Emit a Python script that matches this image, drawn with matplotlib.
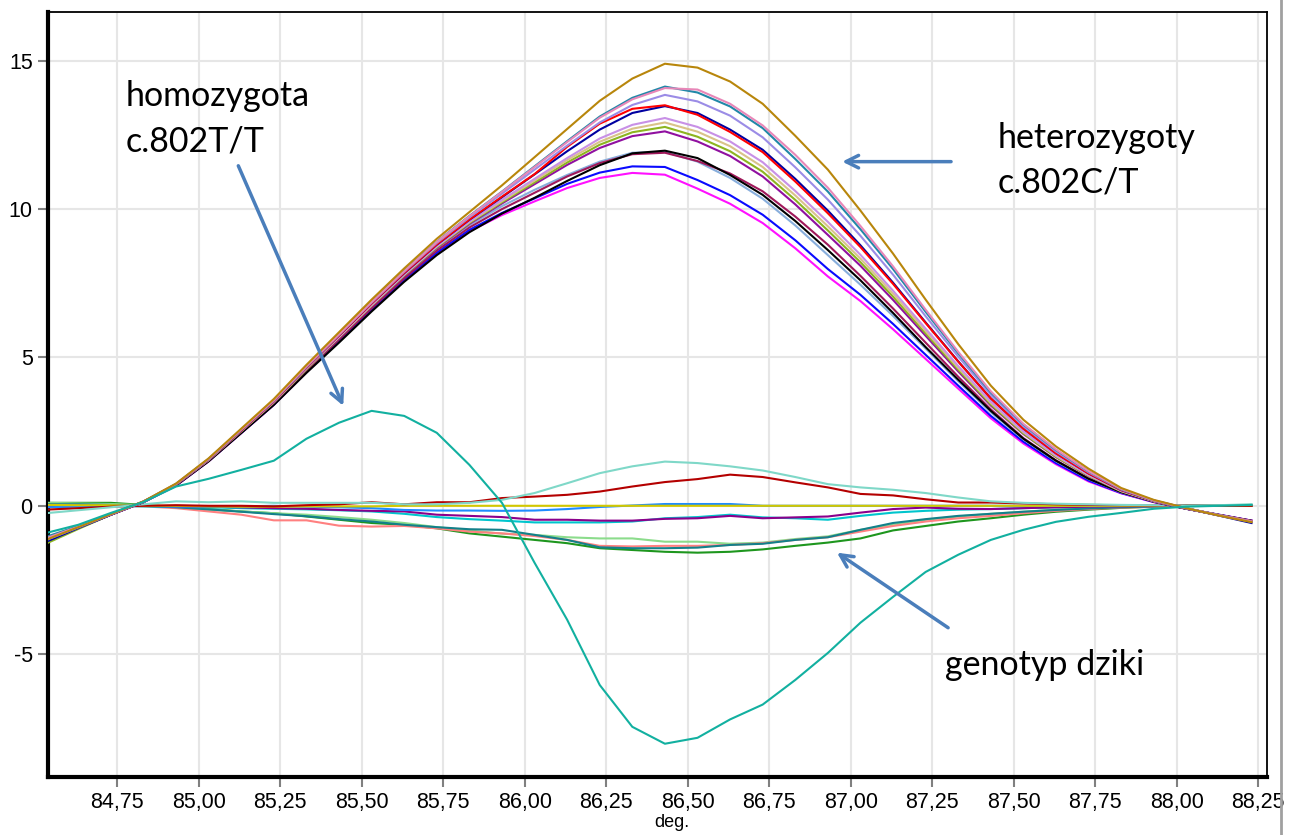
import matplotlib
matplotlib.use("Agg")
import matplotlib.pyplot as plt
from matplotlib.lines import Line2D

# temperatura (deg), co 0,1
temp = [84.53, 84.63, 84.73, 84.83, 84.93, 85.03, 85.13, 85.23, 85.33, 85.43,
        85.53, 85.63, 85.73, 85.83, 85.93, 86.03, 86.13, 86.23, 86.33, 86.43,
        86.53, 86.63, 86.73, 86.83, 86.93, 87.03, 87.13, 87.23, 87.33, 87.43,
        87.53, 87.63, 87.73, 87.83, 87.93, 88.03, 88.13, 88.23]

# heterozygoty c.802C/T
het_gold = [-1.15, -0.72, -0.28, 0.15, 0.75, 1.60, 2.60, 3.60, 4.75, 5.85, 6.95, 8.00, 9.00, 9.90, 10.80, 11.75, 12.70, 13.65, 14.40, 14.90,
            14.77, 14.30, 13.55, 12.47, 11.33, 9.95, 8.50, 6.95, 5.45, 4.05, 2.90, 2.00, 1.25, 0.60, 0.20, -0.08, -0.33, -0.55]
het_teal = [-1.05, -0.68, -0.27, 0.14, 0.74, 1.58, 2.57, 3.56, 4.70, 5.79, 6.88, 7.92, 8.90, 9.77, 10.59, 11.44, 12.29, 13.12, 13.75, 14.13,
            13.93, 13.46, 12.73, 11.69, 10.59, 9.32, 7.98, 6.54, 5.14, 3.82, 2.74, 1.88, 1.16, 0.56, 0.18, -0.08, -0.32, -0.54]
het_pink = [-1.10, -0.70, -0.28, 0.14, 0.74, 1.58, 2.57, 3.56, 4.70, 5.78, 6.87, 7.91, 8.89, 9.76, 10.58, 11.42, 12.26, 13.08, 13.70, 14.08,
            14.03, 13.55, 12.82, 11.83, 10.72, 9.43, 8.07, 6.61, 5.19, 3.86, 2.76, 1.90, 1.17, 0.57, 0.18, -0.08, -0.32, -0.53]
het_lavender = [-1.16, -0.73, -0.29, 0.14, 0.73, 1.57, 2.56, 3.54, 4.68, 5.77, 6.85, 7.89, 8.86, 9.72, 10.52, 11.33, 12.14, 12.92, 13.51, 13.85,
                13.63, 13.15, 12.42, 11.41, 10.32, 9.10, 7.79, 6.39, 5.03, 3.74, 2.68, 1.83, 1.13, 0.55, 0.18, -0.09, -0.32, -0.54]
het_red = [-1.12, -0.71, -0.29, 0.14, 0.72, 1.56, 2.54, 3.52, 4.66, 5.74, 6.82, 7.85, 8.81, 9.65, 10.42, 11.18, 12.10, 12.88, 13.38, 13.50,
           13.18, 12.60, 11.92, 10.93, 9.86, 8.72, 7.48, 6.16, 4.86, 3.62, 2.60, 1.77, 1.09, 0.53, 0.17, -0.09, -0.32, -0.53]
het_navy = [-1.22, -0.75, -0.30, 0.14, 0.72, 1.56, 2.54, 3.52, 4.66, 5.74, 6.82, 7.84, 8.80, 9.64, 10.40, 11.17, 11.95, 12.68, 13.24, 13.47,
            13.24, 12.68, 12.00, 11.02, 9.95, 8.78, 7.52, 6.18, 4.87, 3.62, 2.60, 1.77, 1.09, 0.53, 0.17, -0.09, -0.33, -0.58]
het_orchid = [-1.18, -0.74, -0.29, 0.14, 0.72, 1.55, 2.53, 3.50, 4.63, 5.70, 6.78, 7.80, 8.75, 9.58, 10.31, 11.02, 11.72, 12.38, 12.84, 13.07,
              12.77, 12.28, 11.58, 10.61, 9.57, 8.46, 7.25, 5.97, 4.71, 3.51, 2.50, 1.70, 1.04, 0.51, 0.16, -0.09, -0.32, -0.52]
het_tan = [-1.15, -0.73, -0.29, 0.14, 0.72, 1.55, 2.53, 3.50, 4.63, 5.69, 6.76, 7.79, 8.74, 9.56, 10.27, 10.96, 11.65, 12.27, 12.71, 12.92,
           12.61, 12.12, 11.42, 10.46, 9.42, 8.33, 7.15, 5.89, 4.65, 3.47, 2.48, 1.68, 1.03, 0.50, 0.16, -0.09, -0.32, -0.53]
het_olive = [-1.28, -0.78, -0.30, 0.13, 0.71, 1.54, 2.51, 3.48, 4.60, 5.68, 6.75, 7.77, 8.71, 9.53, 10.23, 10.90, 11.57, 12.17, 12.59, 12.77,
             12.44, 11.95, 11.26, 10.31, 9.28, 8.21, 7.05, 5.81, 4.59, 3.42, 2.44, 1.65, 1.01, 0.49, 0.15, -0.09, -0.31, -0.52]
het_purple = [-1.18, -0.74, -0.29, 0.13, 0.71, 1.54, 2.51, 3.48, 4.60, 5.67, 6.74, 7.76, 8.69, 9.50, 10.19, 10.84, 11.49, 12.06, 12.46, 12.62,
              12.28, 11.79, 11.10, 10.16, 9.13, 8.09, 6.94, 5.73, 4.53, 3.38, 2.42, 1.64, 1.00, 0.49, 0.15, -0.09, -0.31, -0.52]
het_black = [-1.20, -0.75, -0.30, 0.13, 0.69, 1.50, 2.45, 3.40, 4.48, 5.50, 6.55, 7.55, 8.45, 9.22, 9.85, 10.38, 10.95, 11.48, 11.88, 11.97,
             11.72, 11.15, 10.48, 9.60, 8.62, 7.60, 6.50, 5.35, 4.25, 3.20, 2.26, 1.52, 0.91, 0.46, 0.14, -0.10, -0.31, -0.51]
het_maroon = [-1.19, -0.74, -0.30, 0.13, 0.69, 1.52, 2.48, 3.44, 4.55, 5.60, 6.66, 7.67, 8.60, 9.38, 10.00, 10.55, 11.10, 11.55, 11.85, 11.90,
              11.62, 11.20, 10.60, 9.75, 8.80, 7.75, 6.65, 5.50, 4.35, 3.25, 2.28, 1.53, 0.92, 0.46, 0.14, -0.10, -0.31, -0.50]
het_steel = [-1.10, -0.70, -0.28, 0.13, 0.69, 1.52, 2.48, 3.44, 4.55, 5.65, 6.72, 7.74, 8.68, 9.46, 10.10, 10.65, 11.15, 11.60, 11.90, 11.93,
             11.60, 11.05, 10.35, 9.45, 8.45, 7.45, 6.40, 5.30, 4.20, 3.15, 2.24, 1.50, 0.90, 0.45, 0.14, -0.10, -0.31, -0.51]
het_blue = [-1.20, -0.75, -0.30, 0.12, 0.68, 1.51, 2.46, 3.41, 4.52, 5.57, 6.62, 7.63, 8.53, 9.30, 9.87, 10.36, 10.85, 11.23, 11.44, 11.42,
            10.98, 10.47, 9.81, 8.95, 7.98, 7.11, 6.13, 5.09, 4.05, 3.03, 2.16, 1.44, 0.85, 0.43, 0.13, -0.10, -0.30, -0.50]
het_magenta = [-1.20, -0.75, -0.30, 0.12, 0.68, 1.50, 2.45, 3.40, 4.50, 5.55, 6.60, 7.60, 8.50, 9.25, 9.80, 10.26, 10.71, 11.05, 11.22, 11.16,
               10.69, 10.18, 9.53, 8.68, 7.73, 6.90, 5.95, 4.95, 3.95, 2.95, 2.10, 1.40, 0.82, 0.42, 0.12, -0.10, -0.30, -0.50]

# homozygota c.802T/T
homo_tt = [-0.92, -0.64, -0.24, 0.13, 0.65, 0.91, 1.21, 1.52, 2.26, 2.80, 3.20, 3.03, 2.46, 1.38, 0.10, -1.92, -3.84, -6.04, -7.45, -8.02,
           -7.82, -7.20, -6.70, -5.87, -4.96, -3.94, -3.07, -2.23, -1.65, -1.15, -0.81, -0.54, -0.37, -0.24, -0.10, -0.03, 0.00, 0.03]

# genotyp dziki
wt_aqua = [-0.25, -0.15, -0.05, 0.05, 0.15, 0.12, 0.15, 0.10, 0.10, 0.10, 0.10, 0.05, 0.05, 0.10, 0.20, 0.43, 0.76, 1.10, 1.33, 1.49,
           1.44, 1.33, 1.19, 0.97, 0.73, 0.62, 0.54, 0.43, 0.28, 0.15, 0.10, 0.07, 0.05, 0.03, 0.02, 0.00, 0.02, 0.05]
wt_darkred = [-0.13, -0.08, -0.03, 0.00, 0.02, 0.00, 0.00, -0.02, 0.02, 0.05, 0.12, 0.05, 0.12, 0.12, 0.26, 0.31, 0.37, 0.48, 0.65, 0.80,
              0.90, 1.05, 0.97, 0.79, 0.62, 0.40, 0.35, 0.22, 0.11, 0.11, 0.08, 0.05, 0.03, 0.02, 0.01, 0.00, 0.00, 0.00]
wt_yellow = [0.03, 0.02, 0.02, 0.00, 0.00, -0.02, -0.03, -0.03, -0.02, -0.02, -0.02, 0.00, 0.00, 0.00, 0.00, 0.00, 0.00, 0.00, 0.00, 0.00,
             0.00, 0.00, 0.00, 0.00, 0.00, 0.00, 0.00, 0.00, 0.00, 0.00, 0.00, 0.00, 0.00, 0.00, 0.00, 0.00, 0.00, 0.00]
wt_blue = [-0.05, -0.03, 0.00, 0.00, -0.02, -0.03, -0.02, 0.00, -0.03, -0.05, -0.08, -0.14, -0.16, -0.16, -0.17, -0.16, -0.11, -0.04, 0.01, 0.06,
           0.06, 0.06, 0.00, 0.00, 0.00, 0.00, 0.00, 0.00, 0.00, 0.00, 0.00, 0.00, 0.00, 0.00, 0.00, 0.00, 0.00, 0.00]
wt_purple = [0.00, 0.00, 0.00, 0.00, -0.02, -0.03, -0.05, -0.08, -0.10, -0.14, -0.17, -0.19, -0.30, -0.34, -0.38, -0.47, -0.47, -0.50, -0.50, -0.44,
             -0.42, -0.34, -0.42, -0.39, -0.36, -0.23, -0.11, -0.06, -0.10, -0.11, -0.08, -0.05, -0.03, -0.02, -0.01, 0.00, 0.00, 0.00]
wt_cyan = [0.00, 0.00, 0.00, -0.02, -0.04, -0.05, -0.08, -0.10, -0.12, -0.15, -0.19, -0.27, -0.38, -0.45, -0.50, -0.56, -0.56, -0.56, -0.53, -0.42,
           -0.38, -0.30, -0.39, -0.42, -0.47, -0.34, -0.23, -0.17, -0.13, -0.11, -0.08, -0.05, -0.04, -0.02, -0.01, 0.00, 0.00, 0.00]
wt_darkteal = [0.05, 0.05, 0.03, 0.00, -0.05, -0.12, -0.20, -0.28, -0.35, -0.45, -0.53, -0.64, -0.72, -0.79, -0.81, -0.98, -1.15, -1.40, -1.43, -1.43,
               -1.41, -1.32, -1.28, -1.15, -1.06, -0.81, -0.58, -0.45, -0.34, -0.27, -0.20, -0.14, -0.09, -0.05, -0.02, 0.00, 0.00, 0.02]
wt_salmon = [0.02, 0.02, 0.00, -0.02, -0.08, -0.19, -0.30, -0.49, -0.49, -0.67, -0.70, -0.68, -0.76, -0.87, -0.93, -1.02, -1.15, -1.35, -1.37, -1.35,
             -1.35, -1.32, -1.26, -1.15, -1.06, -0.87, -0.68, -0.53, -0.42, -0.34, -0.25, -0.17, -0.11, -0.06, -0.03, 0.00, 0.00, 0.00]
wt_lightgreen = [0.10, 0.08, 0.06, 0.02, -0.05, -0.13, -0.19, -0.25, -0.30, -0.38, -0.47, -0.58, -0.72, -0.83, -0.94, -0.98, -1.06, -1.10, -1.10, -1.21,
                 -1.21, -1.28, -1.24, -1.12, -1.03, -0.81, -0.64, -0.47, -0.36, -0.27, -0.20, -0.13, -0.08, -0.05, -0.02, 0.00, 0.00, 0.02]
wt_green = [0.10, 0.10, 0.10, 0.03, -0.04, -0.11, -0.19, -0.25, -0.36, -0.47, -0.58, -0.64, -0.76, -0.93, -1.04, -1.15, -1.26, -1.43, -1.49, -1.55,
            -1.58, -1.55, -1.47, -1.35, -1.24, -1.10, -0.83, -0.68, -0.53, -0.42, -0.30, -0.20, -0.13, -0.07, -0.03, 0.00, 0.02, 0.03]

wild = [(wt_green, "#1E961E"), (wt_lightgreen, "#8CDC8C"), (wt_salmon, "#FF8080"),
        (wt_darkteal, "#13808A"), (wt_cyan, "#00C5CD"), (wt_purple, "#8B008B"),
        (wt_blue, "#1E8CFF"), (wt_yellow, "#D2C800"), (wt_darkred, "#B40000"),
        (wt_aqua, "#7FD8C8")]
hetero = [(het_magenta, "#FF10FF"), (het_blue, "#0A0AFF"), (het_steel, "#88AEDC"),
          (het_maroon, "#A0185A"), (het_black, "#000000"), (het_purple, "#9010A0"),
          (het_olive, "#8DB520"), (het_tan, "#D9C38A"), (het_orchid, "#C890E6"),
          (het_navy, "#0000A0"), (het_red, "#FF0000"), (het_lavender, "#9B8CE6"),
          (het_teal, "#2188A8"), (het_pink, "#E887B8"), (het_gold, "#B8860B")]

xticks = [84.75, 85.00, 85.25, 85.50, 85.75, 86.00, 86.25, 86.50, 86.75, 87.00, 87.25, 87.50, 87.75, 88.00, 88.25]
yticks = [-5, 0, 5, 10, 15]

arrow_col = "#4A7EBB"

fig = plt.figure(figsize=(12.97, 8.35), dpi=100)
ax = fig.add_axes([0.037, 0.0695, 0.940, 0.916])

for vals, col in wild:
    ax.plot(temp, vals, color=col, lw=1.5, zorder=3)
for vals, col in hetero:
    ax.plot(temp, vals, color=col, lw=1.5, zorder=4)
ax.plot(temp, homo_tt, color="#12B0A0", lw=1.5, zorder=5)

ax.set_xlim(84.537, 88.278)
ax.set_ylim(-9.14, 16.64)
ax.set_xticks(xticks)
ax.set_xticklabels([f"{t:.2f}".replace(".", ",") for t in xticks])
ax.set_yticks(yticks)
ax.set_yticklabels([str(t) for t in yticks])
ax.grid(True, color="#E6E6E6", lw=1.5, zorder=0)
ax.set_axisbelow(True)

for lab in ax.get_xticklabels() + ax.get_yticklabels():
    lab.set_fontfamily("Liberation Sans")
    lab.set_fontsize(15.5)
ax.tick_params(direction="out", length=7, width=1.5, color="#808080", pad=4)

ax.spines["left"].set_linewidth(3)
ax.spines["bottom"].set_linewidth(3)
ax.spines["top"].set_linewidth(1.3)
ax.spines["right"].set_linewidth(1.3)

fig.text(0.518, 0.015, "deg.", fontsize=13, family="Liberation Sans", ha="center", va="center")

# opisy grup
txt = dict(fontsize=24.5, family="Lato", color="black", linespacing=1.5)
ax.text(84.775, 14.35, "homozygota\nc.802T/T", ha="left", va="top", **txt)
ax.text(87.452, 12.95, "heterozygoty\nc.802C/T", ha="left", va="top", **txt)
ax.text(87.29, -5.36, "genotyp dziki", ha="left", va="center", **txt)

arr = dict(arrowstyle="->,head_length=0.9,head_width=0.45", color=arrow_col, lw=2.5,
           shrinkA=0, shrinkB=0)
ax.annotate("", xy=(85.443, 3.37), xytext=(85.121, 11.46), arrowprops=arr, zorder=6)
ax.annotate("", xy=(86.974, 11.6), xytext=(87.308, 11.6), arrowprops=arr, zorder=6)
ax.annotate("", xy=(86.958, -1.58), xytext=(87.299, -4.11), arrowprops=arr, zorder=6)

# pionowa linia przy prawej krawedzi
fig.add_artist(Line2D([0.9875, 0.9875], [0, 1], color="#A0A0A0", lw=2, transform=fig.transFigure))

fig.savefig("out.png", dpi=100)
